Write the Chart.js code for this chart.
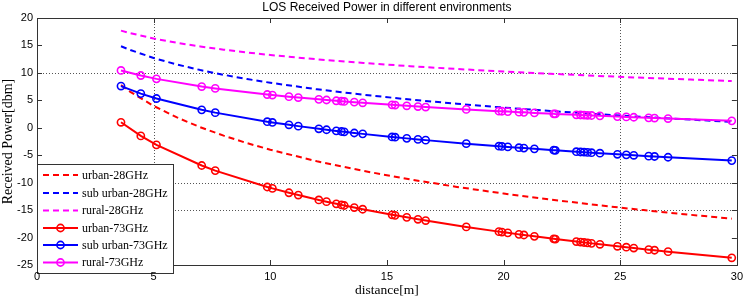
<!DOCTYPE html>
<html><head><meta charset="utf-8">
<script src="https://cdn.jsdelivr.net/npm/chart.js@4"></script>
<style>html,body{margin:0;padding:0;background:#fff;}</style>
</head><body>
<canvas id="c" width="748" height="299"></canvas>
<script>
// ---- data ----
const distance73 = [3.6,4.45,5.12,7.06,7.64,9.87,10.09,10.8,11.2,12.08,12.41,12.83,13.05,13.17,13.6,13.96,15.22,15.35,15.85,16.33,16.66,18.4,19.8,19.93,20.18,20.66,20.87,21.32,22.15,22.22,23.12,23.3,23.45,23.6,23.77,24.13,24.88,25.26,25.58,26.22,26.47,27.05,29.78];
const urban73 = [1.00,-1.48,-3.12,-6.87,-7.80,-10.79,-11.04,-11.84,-12.26,-13.15,-13.46,-13.85,-14.05,-14.16,-14.53,-14.84,-15.85,-15.95,-16.32,-16.67,-16.90,-18.06,-18.92,-19.00,-19.14,-19.42,-19.53,-19.78,-20.23,-20.27,-20.73,-20.82,-20.90,-20.97,-21.06,-21.23,-21.59,-21.76,-21.91,-22.20,-22.31,-22.57,-23.69];
const suburban73 = [7.60,6.23,5.33,3.27,2.76,1.11,0.97,0.54,0.30,-0.19,-0.36,-0.57,-0.68,-0.74,-0.95,-1.11,-1.67,-1.72,-1.93,-2.12,-2.25,-2.89,-3.36,-3.40,-3.48,-3.63,-3.70,-3.84,-4.08,-4.10,-4.36,-4.41,-4.45,-4.49,-4.54,-4.63,-4.83,-4.93,-5.01,-5.17,-5.23,-5.37,-5.98];
const rural73 = [10.44,9.52,8.91,7.51,7.17,6.06,5.96,5.67,5.51,5.18,5.06,4.92,4.84,4.80,4.67,4.55,4.18,4.14,4.00,3.87,3.78,3.35,3.03,3.01,2.95,2.85,2.81,2.71,2.55,2.53,2.36,2.33,2.30,2.27,2.24,2.17,2.04,1.98,1.92,1.81,1.77,1.68,1.26];

const distance28 = [3.6,4,5,6,7,8,9,10,12,14,16,18,20,22,24,26,28,29.78];
const urban28 = [7.76,6.54,3.98,1.88,0.10,-1.43,-2.79,-4.00,-6.10,-7.87,-9.41,-10.77,-11.98,-13.07,-14.08,-15.00,-15.85,-16.56];
const suburban28 = [14.86,14.17,12.71,11.53,10.52,9.65,8.89,8.20,7.01,6.01,5.14,4.37,3.68,3.06,2.50,1.97,1.49,1.09];
const rural28 = [17.70,17.24,16.27,15.48,14.81,14.23,13.72,13.26,12.47,11.80,11.22,10.71,10.25,9.84,9.46,9.11,8.79,8.52];

const xTicks = [0,5,10,15,20,25,30];
const yTicks = [-25,-20,-15,-10,-5,0,5,10,15,20];
const xGridShown = [5,25];
const yGridShown = [10,-10,-15];
const seriesLabels = ['urban-28GHz','sub urban-28GHz','rural-28GHz','urban-73GHz','sub urban-73GHz','rural-73GHz'];
const titleText = 'LOS Received Power in different environments';
const xTitle = 'distance[m]';
const yTitle = 'Received Power[dbm]';

const RED = '#ff0000', BLUE = '#0000ff', MAG = '#ff00ff';
const pairs = (xs, ys) => xs.map((x, i) => ({x, y: ys[i]}));

function dashed(label, xs, ys, color, order) {
  return {label, data: pairs(xs, ys), borderColor: color, backgroundColor: color,
    borderWidth: 2, borderDash: [6, 4], pointRadius: 0, tension: 0, order};
}
function solid(label, xs, ys, color, order) {
  return {label, data: pairs(xs, ys), borderColor: color, backgroundColor: 'rgba(0,0,0,0)',
    borderWidth: 2, pointRadius: 3.6, pointBorderWidth: 1.6, pointBorderColor: color,
    pointBackgroundColor: 'rgba(0,0,0,0)', pointStyle: 'circle', tension: 0, order};
}

const frame = {
  id: 'frame',
  beforeDatasetsDraw(chart) {
    const {ctx, chartArea: a, scales: {x, y}} = chart;
    ctx.save();
    ctx.strokeStyle = '#555';
    ctx.lineWidth = 1;
    ctx.setLineDash([1, 2]);
    xGridShown.forEach(v => {
      const px = Math.round(x.getPixelForValue(v)) + 0.5;
      ctx.beginPath(); ctx.moveTo(px, a.top); ctx.lineTo(px, a.bottom); ctx.stroke();
    });
    yGridShown.forEach(v => {
      const py = Math.round(y.getPixelForValue(v)) + 0.5;
      ctx.beginPath(); ctx.moveTo(a.left, py); ctx.lineTo(a.right, py); ctx.stroke();
    });
    ctx.setLineDash([]);
    ctx.strokeStyle = '#333';
    ctx.strokeRect(Math.round(a.left) + 0.5, Math.round(a.top) + 0.5,
      Math.round(a.right - a.left), Math.round(a.bottom - a.top));
    const tl = 5;
    xTicks.forEach(v => {
      const px = Math.round(x.getPixelForValue(v)) + 0.5;
      ctx.beginPath();
      ctx.moveTo(px, a.bottom); ctx.lineTo(px, a.bottom - tl);
      ctx.moveTo(px, a.top); ctx.lineTo(px, a.top + tl);
      ctx.stroke();
    });
    yTicks.forEach(v => {
      const py = Math.round(y.getPixelForValue(v)) + 0.5;
      ctx.beginPath();
      ctx.moveTo(a.left, py); ctx.lineTo(a.left + tl, py);
      ctx.moveTo(a.right, py); ctx.lineTo(a.right - tl, py);
      ctx.stroke();
    });
    ctx.restore();
  },
  afterDatasetsDraw(chart) {
    // legend box
    const {ctx} = chart;
    const bx = 37.5, by = 164.5, bw = 136, bh = 109;
    ctx.save();
    ctx.fillStyle = '#fff';
    ctx.fillRect(bx, by, bw, bh);
    ctx.strokeStyle = '#333';
    ctx.lineWidth = 1;
    ctx.strokeRect(bx, by, bw, bh);
    const rows = [175, 193, 210.5, 228, 245, 262.5];
    chart.data.datasets.forEach((ds, i) => {
      const yy = rows[i];
      ctx.strokeStyle = ds.borderColor;
      ctx.lineWidth = 2;
      ctx.setLineDash(ds.borderDash || []);
      ctx.beginPath(); ctx.moveTo(43, yy); ctx.lineTo(78, yy); ctx.stroke();
      ctx.setLineDash([]);
      if (ds.pointRadius > 0) {
        ctx.lineWidth = 1.6;
        ctx.beginPath(); ctx.arc(60.5, yy, 3.6, 0, Math.PI * 2); ctx.stroke();
      }
      ctx.fillStyle = '#000';
      ctx.font = '12px "Liberation Serif", "Times New Roman", serif';
      ctx.textBaseline = 'middle';
      ctx.textAlign = 'left';
      ctx.fillText(ds.label, 82, yy + 0.5);
    });
    ctx.restore();
  },
  afterDraw(chart) {
    const {ctx, chartArea: a} = chart;
    ctx.save();
    ctx.fillStyle = '#000';
    ctx.font = '12px "Liberation Sans", Arial, sans-serif';
    ctx.textAlign = 'center';
    ctx.textBaseline = 'alphabetic';
    ctx.fillText(titleText, (a.left + a.right) / 2, 11);
    ctx.font = '13.5px "Liberation Serif", "Times New Roman", serif';
    ctx.fillText(xTitle, (a.left + a.right) / 2, 294);
    ctx.translate(8, (a.top + a.bottom) / 2);
    ctx.rotate(-Math.PI / 2);
    ctx.font = '14px "Liberation Serif", "Times New Roman", serif';
    ctx.textBaseline = 'middle';
    ctx.fillText(yTitle, 0, 0);
    ctx.restore();
  }
};

const tickFont = {family: '"Liberation Sans", Arial, sans-serif', size: 11};
new Chart(document.getElementById('c'), {
  type: 'line',
  data: {
    datasets: [
      dashed(seriesLabels[0], distance28, urban28, RED, 6),
      dashed(seriesLabels[1], distance28, suburban28, BLUE, 5),
      dashed(seriesLabels[2], distance28, rural28, MAG, 4),
      solid(seriesLabels[3], distance73, urban73, RED, 3),
      solid(seriesLabels[4], distance73, suburban73, BLUE, 2),
      solid(seriesLabels[5], distance73, rural73, MAG, 1)
    ]
  },
  options: {
    responsive: false,
    animation: false,
    devicePixelRatio: 1,
    layout: {padding: {left: 0, top: 18, right: 8, bottom: 0}},
    plugins: {legend: {display: false}, title: {display: false}, tooltip: {enabled: false}},
    scales: {
      x: {
        type: 'linear', min: 0, max: 30, offset: false,
        grid: {display: false, drawTicks: false},
        border: {display: false},
        afterBuildTicks: s => { s.ticks = xTicks.map(v => ({value: v})); },
        afterFit: s => { s.height = 34; },
        ticks: {z: 1, padding: 5, color: '#000', font: tickFont, maxRotation: 0, autoSkip: false}
      },
      y: {
        type: 'linear', min: -25, max: 20,
        grid: {display: false, drawTicks: false},
        border: {display: false},
        afterBuildTicks: s => { s.ticks = yTicks.map(v => ({value: v})); },
        afterFit: s => { s.width = 37; },
        ticks: {padding: 4, color: '#000', font: tickFont, autoSkip: false}
      }
    }
  },
  plugins: [frame]
});
</script>
</body></html>
